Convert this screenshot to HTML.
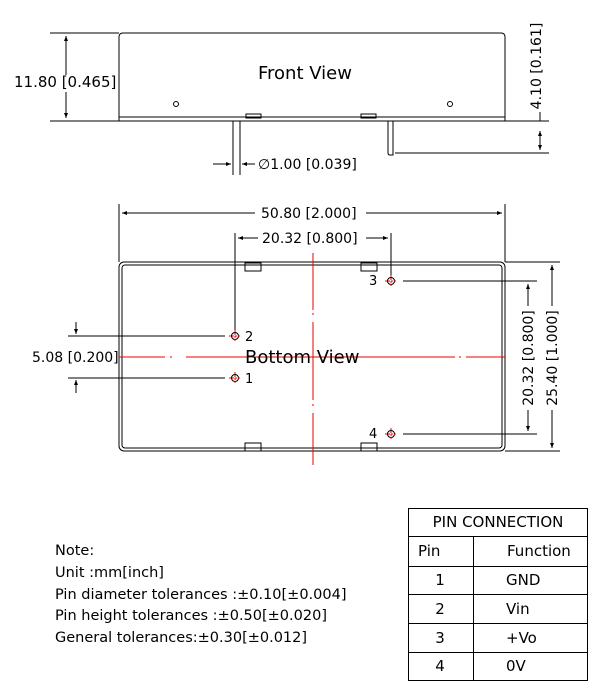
<!DOCTYPE html>
<html><head><meta charset="utf-8"><style>
html,body{margin:0;padding:0;background:#fff;}
svg{display:block;font-family:"DejaVu Sans","Liberation Sans",sans-serif;}
</style></head><body>
<svg width="600" height="700" viewBox="0 0 600 700" xmlns="http://www.w3.org/2000/svg">
<defs>
<marker id="a" viewBox="0 0 10 10" refX="10" refY="5" markerWidth="7" markerHeight="5" orient="auto-start-reverse"><path d="M0,1 L10,5 L0,9 z" fill="#000"/></marker>
</defs>
<g stroke="#000" fill="none" stroke-width="1">
<path d="M119,121 L119,37 Q119,33 123,33 L501,33 Q505,33 505,37 L505,121"/>
<line x1="119" y1="117" x2="505" y2="117"/>
<line x1="119" y1="121" x2="505" y2="121"/>
<rect x="246" y="114" width="15" height="4"/>
<rect x="361" y="114" width="15" height="4"/>
<circle cx="176" cy="104" r="2.5"/>
<circle cx="450" cy="104" r="2.5"/>
<path d="M233,121 V175 M240,121 V175"/>
<path d="M388,121 V153 Q388,155 390,155 H393 V121"/>
<line x1="50" y1="33" x2="119" y2="33"/>
<line x1="50" y1="121" x2="119" y2="121"/>
<line x1="66" y1="36" x2="66" y2="75" marker-start="url(#a)"/>
<line x1="66" y1="92" x2="66" y2="118" marker-end="url(#a)"/>
<line x1="505" y1="121" x2="549" y2="121"/>
<line x1="395" y1="153" x2="549" y2="153"/>
<line x1="540" y1="112" x2="540" y2="121"/>
<line x1="540" y1="131" x2="540" y2="150" marker-start="url(#a)" marker-end="url(#a)"/>
<line x1="213" y1="164" x2="231" y2="164" marker-end="url(#a)"/>
<line x1="255" y1="164" x2="242" y2="164" marker-end="url(#a)"/>
<rect x="119" y="262" width="386" height="189" rx="5"/>
<rect x="122" y="265" width="380" height="183" rx="3"/>
<rect x="245" y="263" width="16" height="8"/>
<rect x="361" y="263" width="16" height="8"/>
<rect x="245" y="443" width="16" height="8"/>
<rect x="361" y="443" width="16" height="8"/>
<line x1="119" y1="204" x2="119" y2="262"/>
<line x1="505" y1="204" x2="505" y2="262"/>
<line x1="122" y1="213" x2="255" y2="213" marker-start="url(#a)"/>
<line x1="366" y1="213" x2="502" y2="213" marker-end="url(#a)"/>
<line x1="235" y1="233" x2="235" y2="330"/>
<line x1="391" y1="233" x2="391" y2="276"/>
<line x1="238" y1="238" x2="258" y2="238" marker-start="url(#a)"/>
<line x1="366" y1="238" x2="388" y2="238" marker-end="url(#a)"/>
<line x1="68" y1="336" x2="225" y2="336"/>
<line x1="68" y1="378" x2="225" y2="378"/>
<line x1="76" y1="322" x2="76" y2="334" marker-end="url(#a)"/>
<line x1="76" y1="393" x2="76" y2="380" marker-end="url(#a)"/>
<line x1="403" y1="281" x2="537" y2="281"/>
<line x1="403" y1="434" x2="537" y2="434"/>
<line x1="528" y1="284" x2="528" y2="306" marker-start="url(#a)"/>
<line x1="528" y1="410" x2="528" y2="431" marker-end="url(#a)"/>
<line x1="505" y1="262" x2="560" y2="262"/>
<line x1="505" y1="451" x2="560" y2="451"/>
<line x1="552" y1="265" x2="552" y2="306" marker-start="url(#a)"/>
<line x1="552" y1="410" x2="552" y2="448" marker-end="url(#a)"/>
<circle cx="235" cy="336" r="3.5"/>
<circle cx="235" cy="378" r="3.5"/>
<circle cx="391" cy="281" r="3.5"/>
<circle cx="391" cy="434" r="3.5"/>
</g>
<g stroke="#e00" stroke-width="1" fill="none">
<line x1="313" y1="253" x2="313" y2="310"/><line x1="313" y1="313" x2="313" y2="315"/>
<line x1="313" y1="322" x2="313" y2="400"/><line x1="313" y1="404" x2="313" y2="406"/>
<line x1="313" y1="413" x2="313" y2="465"/>
<line x1="119" y1="357" x2="165" y2="357"/><line x1="170" y1="357" x2="172" y2="357"/>
<line x1="186" y1="357" x2="455" y2="357"/><line x1="459" y1="357" x2="461" y2="357"/>
<line x1="466" y1="357" x2="505" y2="357"/>
<path d="M229,336 H241 M235,330 V342 M229,378 H241 M235,372 V384 M385,281 H397 M391,275 V287 M385,434 H397 M391,428 V440" stroke-dasharray="2,1"/>
</g>
<g fill="#000" font-size="15">
<text x="258" y="79" font-size="18">Front View</text>
<text x="14" y="87">11.80 [0.465]</text>
<text transform="translate(541,66) rotate(-90)" font-size="14" text-anchor="middle">4.10 [0.161]</text>
<text x="258" y="169" font-size="14">∅1.00 [0.039]</text>
<text x="261" y="218" font-size="14">50.80 [2.000]</text>
<text x="262" y="243" font-size="14">20.32 [0.800]</text>
<text x="32" y="362" font-size="14">5.08 [0.200]</text>
<text x="245" y="363" font-size="18">Bottom View</text>
<text x="245" y="341" font-size="13">2</text>
<text x="245" y="383" font-size="13">1</text>
<text x="369" y="285" font-size="13">3</text>
<text x="369" y="438" font-size="13">4</text>
<text transform="translate(533,358) rotate(-90)" font-size="14" text-anchor="middle">20.32 [0.800]</text>
<text transform="translate(557,358) rotate(-90)" font-size="14" text-anchor="middle">25.40 [1.000]</text>
<g font-size="14.5">
<text x="55" y="555">Note:</text>
<text x="55" y="577">Unit :mm[inch]</text>
<text x="55" y="599">Pin diameter tolerances :±0.10[±0.004]</text>
<text x="55" y="620">Pin height tolerances :±0.50[±0.020]</text>
<text x="55" y="642">General tolerances:±0.30[±0.012]</text>
</g>
</g>
<g stroke="#000" stroke-width="1" fill="none">
<rect x="408.5" y="508.5" width="179" height="172"/>
<path d="M408,536.5 H588 M408,566.5 H588 M408,594.5 H588 M408,623.5 H588 M408,652.5 H588 M473.5,536 V680"/>
</g>
<g font-size="15" fill="#000">
<text x="498" y="527" text-anchor="middle">PIN CONNECTION</text>
<text x="418" y="556">Pin</text>
<text x="507" y="556">Function</text>
<text x="440" y="585" text-anchor="middle">1</text>
<text x="440" y="614" text-anchor="middle">2</text>
<text x="440" y="643" text-anchor="middle">3</text>
<text x="440" y="671" text-anchor="middle">4</text>
<text x="506" y="585">GND</text>
<text x="506" y="614">Vin</text>
<text x="506" y="643">+Vo</text>
<text x="506" y="671">0V</text>
</g>
</svg>
</body></html>
